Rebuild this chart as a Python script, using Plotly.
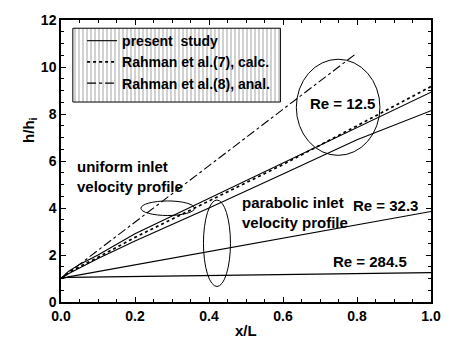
import plotly.graph_objects as go

# Axial positions (x/L) at which the curves are sampled
x_pts = [0.0, 0.02, 0.05, 0.1, 0.2, 0.4, 0.6, 0.8, 1.0]

# h/h_i, Re = 12.5, uniform inlet velocity profile (present study)
y_uniform_125 = [1.0, 1.3, 1.6, 2.0, 2.9, 4.4, 5.9, 7.4, 8.93]
# h/h_i, Re = 12.5, parabolic inlet velocity profile (present study)
y_parab_125 = [1.0, 1.2, 1.45, 1.85, 2.6, 4.0, 5.45, 6.9, 8.14]
# Rahman et al., calculation (Re = 12.5)
y_rahman_calc = [1.0, 1.25, 1.5, 1.9, 2.75, 4.3, 5.85, 7.5, 9.17]

# Rahman et al., analytical
x_anal = [0.0, 0.8]
y_rahman_anal = [1.0, 10.6]

# Present study, Re = 32.3 and Re = 284.5
x_sparse = [0.0, 0.02, 1.0]
y_re_323 = [1.0, 1.07, 3.85]
y_re_2845 = [1.0, 1.05, 1.25]

legend_labels = ["present  study", "Rahman et al.(7), calc.", "Rahman et al.(8), anal."]

FONT = "Liberation Sans, Arial, sans-serif"
BOLD14 = dict(family=FONT, size=14, color="black", weight="bold")

fig = go.Figure()

# hatched legend panel
fig.add_trace(go.Scatter(
    x=[0.032, 0.593, 0.593, 0.032, 0.032],
    y=[8.51, 8.51, 11.65, 11.65, 8.51],
    mode="lines", fill="toself", fillcolor="rgba(0,0,0,0)",
    fillpattern=dict(shape="|", size=4, solidity=0.3, fgcolor="#666666", bgcolor="white"),
    line=dict(color="black", width=1), showlegend=False, hoverinfo="skip"))

line_kw = dict(color="black", width=1.1)
fig.add_trace(go.Scatter(x=x_pts, y=y_uniform_125, mode="lines", line=line_kw,
                         name=legend_labels[0]))
fig.add_trace(go.Scatter(x=x_pts, y=y_rahman_calc, mode="lines",
                         line=dict(color="black", width=1.7, dash="dot"),
                         name=legend_labels[1]))
fig.add_trace(go.Scatter(x=x_anal, y=y_rahman_anal, mode="lines",
                         line=dict(color="black", width=1.1, dash="dashdot"),
                         name=legend_labels[2]))
fig.add_trace(go.Scatter(x=x_pts, y=y_parab_125, mode="lines", line=line_kw, showlegend=False))
fig.add_trace(go.Scatter(x=x_sparse, y=y_re_323, mode="lines", line=line_kw, showlegend=False))
fig.add_trace(go.Scatter(x=x_sparse, y=y_re_2845, mode="lines", line=line_kw, showlegend=False))

# ellipses grouping the curves
ell = dict(type="circle", xref="x", yref="y", line=dict(color="black", width=1))
fig.add_shape(x0=0.636, x1=0.862, y0=6.24, y1=10.33, **ell)
fig.add_shape(x0=0.216, x1=0.361, y0=3.68, y1=4.30, **ell)
fig.add_shape(x0=0.385, x1=0.458, y0=0.66, y1=4.34, **ell)

lab = dict(showarrow=False, font=dict(family=FONT, size=15, color="black"))
fig.add_annotation(x=0.76, y=8.43, text="<b>Re = 12.5</b>", **lab)
fig.add_annotation(x=0.186, y=5.33, text="<b>uniform inlet<br>velocity profile</b>", align="left", **lab)
fig.add_annotation(x=0.485, y=3.8, xanchor="left", text="<b>parabolic inlet<br>velocity profile</b>",
                   align="left", **lab)
fig.add_annotation(x=0.876, y=4.09, text="<b>Re = 32.3</b>", **lab)
fig.add_annotation(x=0.836, y=1.74, text="<b>Re = 284.5</b>", **lab)

# axis titles
fig.add_annotation(xref="paper", yref="paper", x=-0.115, y=0.61, textangle=-90,
                   text="<b>h/h<sub>i</sub></b>", **lab)
fig.add_annotation(xref="paper", yref="paper", x=0.5, y=-0.138, text="<b>x/L</b>", **lab)

axis_common = dict(showgrid=False, zeroline=False, showline=True, linecolor="black", linewidth=1.5,
                   mirror="ticks", ticks="inside", ticklen=5, tickwidth=1.2, tickcolor="black",
                   tickfont=BOLD14)
fig.update_xaxes(range=[0, 1], dtick=0.2, tickformat=".1f",
                 minor=dict(dtick=0.05, ticks="inside", ticklen=3, tickcolor="black"),
                 **axis_common)
fig.update_yaxes(range=[0, 12], dtick=2,
                 minor=dict(dtick=0.5, ticks="inside", ticklen=3, tickcolor="black"),
                 **axis_common)

fig.update_layout(
    width=453, height=360,
    margin=dict(l=61, r=20, t=12, b=58),
    plot_bgcolor="white", paper_bgcolor="white",
    font=dict(family=FONT, size=14, color="black"),
    legend=dict(x=0.057, y=0.982, xanchor="left", yanchor="top", bgcolor="rgba(0,0,0,0)",
                font=BOLD14, tracegroupgap=0, itemwidth=30),
    showlegend=True,
)

fig.write_html("out.html")
